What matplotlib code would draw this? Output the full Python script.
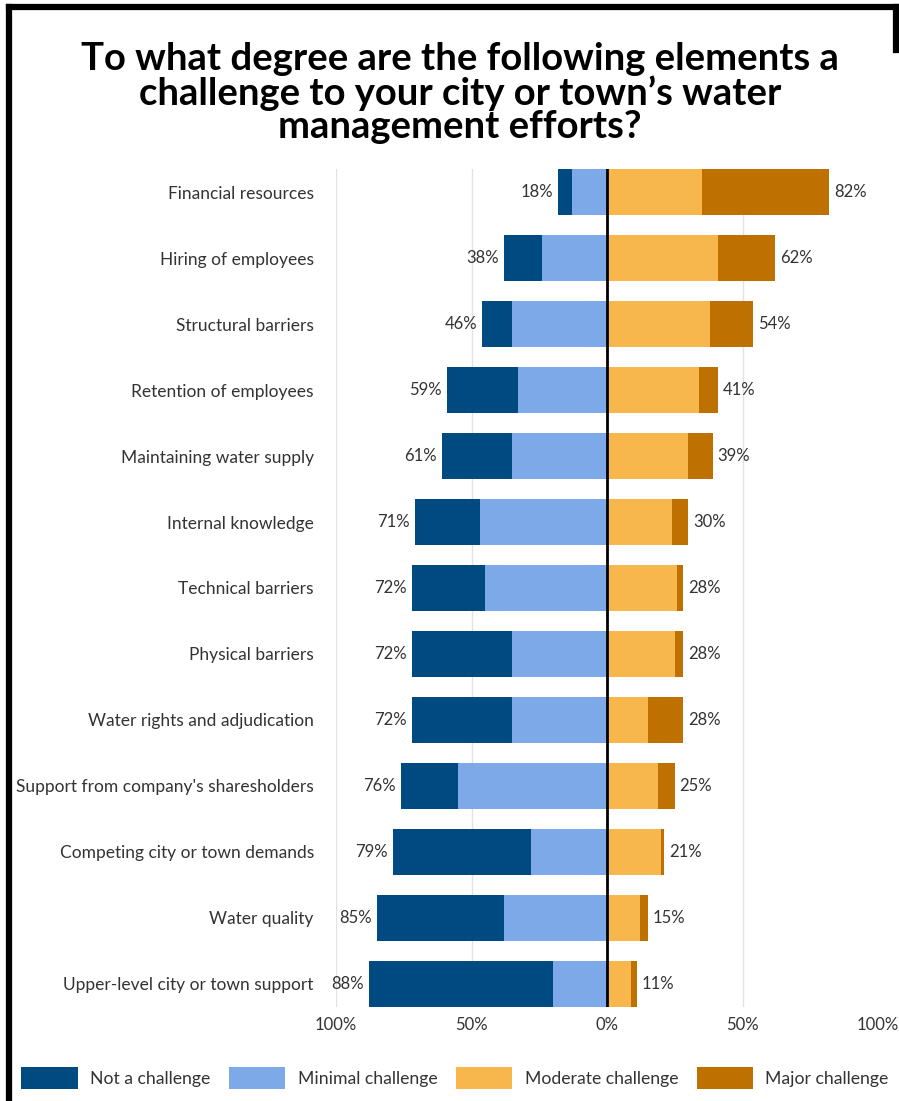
import numpy as np
import matplotlib
matplotlib.use("Agg")
import matplotlib.pyplot as plt
from matplotlib.lines import Line2D
from matplotlib.patches import Patch

plt.rcParams['font.family'] = ['Lato', 'DejaVu Sans']

# survey answers, % of respondents
categories = [
    "Financial resources",
    "Hiring of employees",
    "Structural barriers",
    "Retention of employees",
    "Maintaining water supply",
    "Internal knowledge",
    "Technical barriers",
    "Physical barriers",
    "Water rights and adjudication",
    "Support from company's sharesholders",
    "Competing city or town demands",
    "Water quality",
    "Upper-level city or town support",
]
not_challenge = [5, 14, 11, 26, 26, 24, 27, 37, 37, 21, 51, 47, 68]
minimal_challenge = [13, 24, 35, 33, 35, 47, 45, 35, 35, 55, 28, 38, 20]
moderate_challenge = [35, 41, 38, 34, 30, 24, 26, 25, 15, 19, 20, 12, 9]
major_challenge = [47, 21, 16, 7, 9, 6, 2, 3, 13, 6, 1, 3, 2]

x_ticks = [-100, -50, 0, 50, 100]
x_ticklabels = ["100%", "50%", "0%", "50%", "100%"]
grid_at = [-100, -50, 50]

series_names = ["Not a challenge", "Minimal challenge", "Moderate challenge", "Major challenge"]
colors = ["#004a82", "#7ea9e8", "#f8b74c", "#be7100"]

W, H = 899, 1101
fig = plt.figure(figsize=(W / 100, H / 100), dpi=100)
ax = fig.add_axes([336 / W, 1 - 1007 / H, 542 / W, 838 / H])

y = np.arange(len(categories))
nc = np.array(not_challenge)
mn = np.array(minimal_challenge)
md = np.array(moderate_challenge)
mj = np.array(major_challenge)
h = 0.7

# negative side: minimal next to zero, "not a challenge" further out
ax.barh(y, -mn, height=h, color=colors[1], zorder=2)
ax.barh(y, -nc, left=-mn, height=h, color=colors[0], zorder=2)
ax.barh(y, md, height=h, color=colors[2], zorder=2)
ax.barh(y, mj, left=md, height=h, color=colors[3], zorder=2)

left_tot = nc + mn
right_tot = md + mj
for yi, lt, rt in zip(y, left_tot, right_tot):
    ax.text(-lt - 1.8, yi, f"{lt}%", ha="right", va="center", fontsize=12, color="#333333")
    ax.text(rt + 1.8, yi, f"{rt}%", ha="left", va="center", fontsize=12, color="#333333")

for g in grid_at:
    ax.axvline(g, color="#e2e2e2", lw=1, zorder=0)
ax.axvline(0, color="black", lw=2, zorder=3)

ax.set_xlim(-100, 100)
ax.set_ylim(len(categories) - 1 + h / 2, -h / 2)
ax.set_xticks(x_ticks)
ax.set_xticklabels(x_ticklabels, fontsize=12, color="#333333")
ax.set_yticks(y)
ax.set_yticklabels(categories, fontsize=12.5, color="#333333")
ax.tick_params(axis="both", length=0)
ax.tick_params(axis="y", pad=16)
ax.tick_params(axis="x", pad=7)
for s in ax.spines.values():
    s.set_visible(False)

fig.text(460 / W, 1 - 93 / H,
         "To what degree are the following elements a\nchallenge to your city or town\u2019s water\nmanagement efforts?",
         ha="center", va="center", fontsize=27.5, fontweight="bold", color="black",
         linespacing=0.98)

handles = [Patch(facecolor=c, edgecolor="none") for c in colors]
fig.legend(handles, series_names, loc="center", bbox_to_anchor=(455 / W, 1 - 1078 / H),
           ncol=4, frameon=False, fontsize=12.7, handlelength=3.2, handleheight=1.6,
           handletextpad=0.7, columnspacing=1.05, labelcolor="#333333")

# black frame on left, top and part of the right edge
fig.add_artist(Line2D([9 / W, 9 / W], [0, 1 - 7 / H], color="black", lw=4.5))
fig.add_artist(Line2D([9 / W, 1], [1 - 7 / H, 1 - 7 / H], color="black", lw=4.5))
fig.add_artist(Line2D([896 / W, 896 / W], [1 - 7 / H, 1 - 50 / H], color="black", lw=4.5))

fig.savefig("out.png", dpi=100)
